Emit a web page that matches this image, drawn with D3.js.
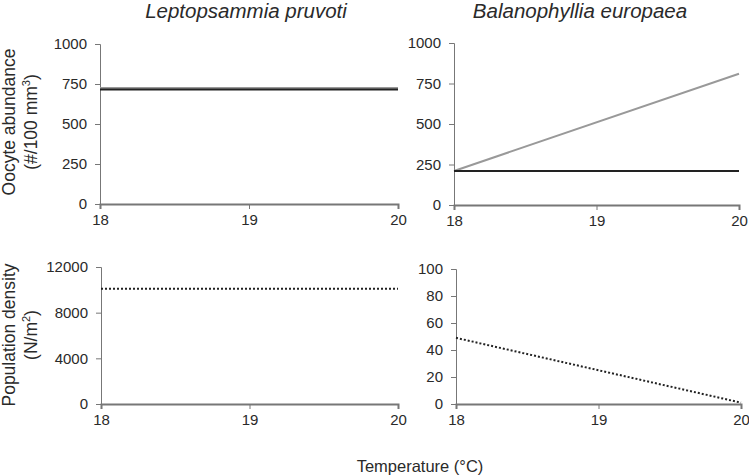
<!DOCTYPE html>
<html>
<head>
<meta charset="utf-8">
<script src="https://cdn.jsdelivr.net/npm/d3@7"></script>
<style>
  body { margin: 0; background: #fff; }
  text { font-family: "Liberation Sans", Arial, sans-serif; fill: #2a2a2a; }
  .axis path, .axis line { stroke: #777; }
</style>
</head>
<body>
<div id="chart"></div>
<script>
const temps = [18, 20];
const xTicks = [18, 19, 20];

// top row: oocyte abundance
const lpGrey = [725, 725];
const lpBlack = [715, 715];
const beGrey = [210, 810];
const beBlack = [210, 210];

// bottom row: population density
const lpDensity = [10100, 10100];
const beDensity = [49, 1];

const oocyteTicks = [0, 250, 500, 750, 1000];
const lpDensityTicks = [0, 4000, 8000, 12000];
const beDensityTicks = [0, 20, 40, 60, 80, 100];

const width = 749, height = 475;
const svg = d3.select("#chart").append("svg")
    .attr("width", width).attr("height", height);

const panels = [
    { x0: 100, x1: 398, y0: 44, y1: 204, yMax: 1000, yTicks: oocyteTicks,
      series: [{ v: lpGrey, color: "#999", dash: null }, { v: lpBlack, color: "#222", dash: null }] },
    { x0: 454, x1: 739, y0: 43, y1: 205, yMax: 1000, yTicks: oocyteTicks,
      series: [{ v: beGrey, color: "#999", dash: null }, { v: beBlack, color: "#222", dash: null }] },
    { x0: 101, x1: 398, y0: 267, y1: 404, yMax: 12000, yTicks: lpDensityTicks,
      series: [{ v: lpDensity, color: "#222", dash: "2,2" }] },
    { x0: 456, x1: 741, y0: 269, y1: 404, yMax: 100, yTicks: beDensityTicks,
      series: [{ v: beDensity, color: "#222", dash: "2,2" }] }
];

panels.forEach(p => {
    const x = d3.scaleLinear().domain([18, 20]).range([p.x0, p.x1]);
    const y = d3.scaleLinear().domain([0, p.yMax]).range([p.y1, p.y0]);

    svg.append("g")
        .attr("class", "axis")
        .attr("transform", `translate(0, ${p.y1})`)
        .call(d3.axisBottom(x).tickValues(xTicks).tickFormat(d3.format("d"))
            .tickSizeOuter(0).tickSize(5).tickPadding(5))
        .call(g => g.select(".domain").attr("stroke-width", 2))
        .call(g => g.selectAll("text").attr("font-size", 15));

    svg.append("g")
        .attr("class", "axis")
        .attr("transform", `translate(${p.x0}, 0)`)
        .call(d3.axisLeft(y).tickValues(p.yTicks).tickFormat(d3.format("d"))
            .tickSizeOuter(0).tickSize(5).tickPadding(8))
        .call(g => g.select(".domain").attr("stroke", "#444"))
        .call(g => g.selectAll("text").attr("font-size", 15));

    const line = d3.line().x((d, i) => x(temps[i])).y(d => y(d));
    p.series.forEach(s => {
        svg.append("path")
            .datum(s.v)
            .attr("d", line)
            .attr("fill", "none")
            .attr("stroke", s.color)
            .attr("stroke-width", 2)
            .attr("stroke-dasharray", s.dash);
    });
});

// titles
svg.append("text").attr("x", 246).attr("y", 18).attr("text-anchor", "middle")
    .attr("font-size", 20.5).attr("font-style", "italic").text("Leptopsammia pruvoti");
svg.append("text").attr("x", 580).attr("y", 18).attr("text-anchor", "middle")
    .attr("font-size", 20.5).attr("font-style", "italic").text("Balanophyllia europaea");

// y labels
const yl1 = svg.append("text").attr("transform", "translate(15,122) rotate(-90)")
    .attr("text-anchor", "middle").attr("font-size", 17.5);
yl1.append("tspan").attr("x", 0).attr("dy", 0).text("Oocyte abundance");
yl1.append("tspan").attr("x", 0).attr("dy", 22).text("(#/100 mm");
yl1.append("tspan").attr("font-size", 11).attr("dy", -7).text("3");
yl1.append("tspan").attr("dy", 7).text(")");

const yl2 = svg.append("text").attr("transform", "translate(15,335) rotate(-90)")
    .attr("text-anchor", "middle").attr("font-size", 17.5);
yl2.append("tspan").attr("x", 0).attr("dy", 0).text("Population density");
yl2.append("tspan").attr("x", 0).attr("dy", 22).text("(N/m");
yl2.append("tspan").attr("font-size", 11).attr("dy", -7).text("2");
yl2.append("tspan").attr("dy", 7).text(")");

// x label
svg.append("text").attr("x", 420).attr("y", 472).attr("text-anchor", "middle")
    .attr("font-size", 16.5).text("Temperature (°C)");
</script>
</body>
</html>
